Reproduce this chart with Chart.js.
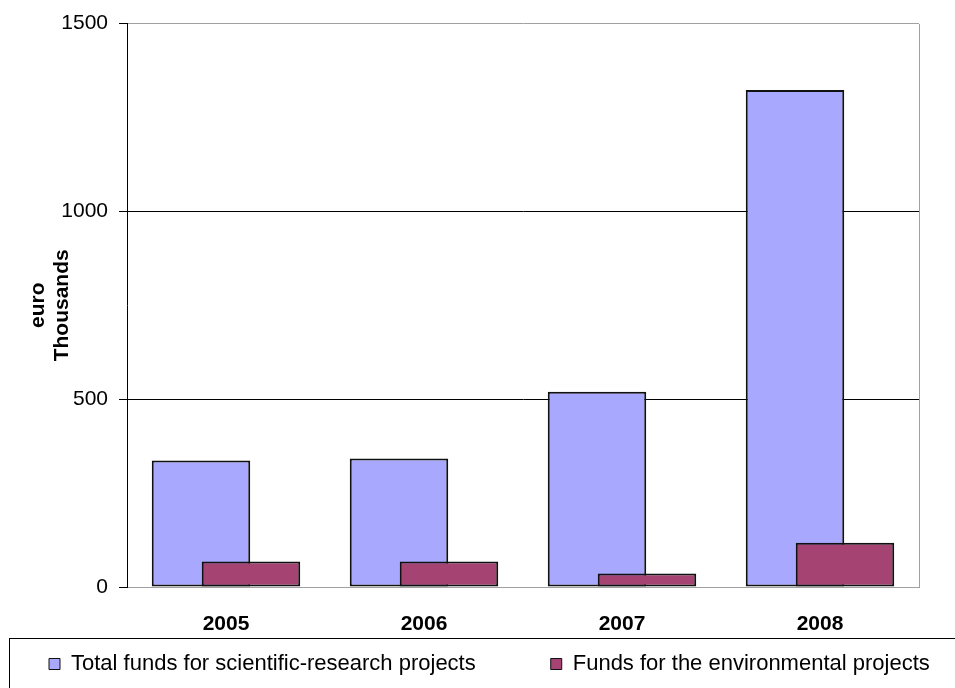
<!DOCTYPE html>
<html>
<head>
<meta charset="utf-8">
<script src="https://cdn.jsdelivr.net/npm/chart.js@4/dist/chart.umd.min.js"></script>
<style>
  html, body { margin: 0; padding: 0; background: #ffffff; }
  #wrap { width: 955px; height: 688px; }
</style>
</head>
<body>
<div id="wrap"><canvas id="chart" width="955" height="688"></canvas></div>
<script>
// Funding by year, euro thousands
const years = ['2005', '2006', '2007', '2008'];
const researchFunds = [337, 342, 520, 1323];
const environmentFunds = [68, 68, 36, 118];
const yTicks = [0, 500, 1000, 1500];
const seriesNames = ['Total funds for scientific-research projects', 'Funds for the environmental projects'];
const axisTitle = ['euro', 'Thousands'];

Chart.defaults.font.family = '"Liberation Sans", Arial, sans-serif';
Chart.defaults.color = '#000000';

// Right-hand edge of the plot area (top and bottom come from the grid/axis colours)
const plotFrame = {
  id: 'plotFrame',
  beforeDatasetsDraw(chart, args, opts) {
    const { ctx, chartArea: a } = chart;
    const x = Math.round(a.right) + 0.5;
    ctx.save();
    ctx.strokeStyle = opts.color;
    ctx.lineWidth = 1;
    ctx.beginPath();
    ctx.moveTo(x, Math.round(a.top));
    ctx.lineTo(x, Math.round(a.bottom) + 1);
    ctx.stroke();
    ctx.restore();
  }
};

// The second series sits over the first where the bars overlap
const overlapOrder = {
  id: 'overlapOrder',
  beforeDatasetDraw(chart, args) {
    if (args.index === 1) return false;
  },
  afterDatasetDraw(chart, args) {
    if (args.index === 0) chart.getDatasetMeta(1).controller.draw();
  }
};

// Framed legend strip along the bottom, running off the right edge
const legendFrame = {
  id: 'legendFrame',
  afterLayout(chart, args, opts) {
    const lg = chart.legend;
    if (!lg) return;
    const pad = lg.options.labels.padding;
    const frameTop = lg.top;
    chart.$legendFrame = { left: opts.left, top: frameTop };
    lg.left = opts.left + opts.insetX - pad;
    lg.right = lg.left + 4000;
    lg.width = 4000;
    lg.top = frameTop + opts.insetY - pad;
    lg.bottom = lg.top + 4000;
    lg.height = 4000;
  },
  afterDraw(chart, args, opts) {
    const f = chart.$legendFrame;
    if (!f) return;
    const { ctx } = chart;
    ctx.save();
    ctx.strokeStyle = opts.color;
    ctx.lineWidth = 1;
    ctx.strokeRect(Math.round(f.left) + 0.5, Math.round(f.top) + 0.5, chart.width + 100, 200);
    ctx.restore();
  }
};

new Chart(document.getElementById('chart'), {
  type: 'bar',
  data: {
    labels: years,
    datasets: [
      {
        label: seriesNames[0],
        data: researchFunds,
        backgroundColor: '#A8A8FF',
        borderColor: '#111111',
        borderWidth: 2,
        borderSkipped: false
      },
      {
        label: seriesNames[1],
        data: environmentFunds,
        backgroundColor: '#A54372',
        borderColor: '#111111',
        borderWidth: 2,
        borderSkipped: false
      }
    ]
  },
  options: {
    responsive: false,
    animation: false,
    events: [],
    categoryPercentage: 0.505,
    barPercentage: 1.97,
    layout: { padding: { top: 21, right: 36, bottom: 0, left: 0 } },
    scales: {
      x: {
        grid: { display: false },
        border: { display: true, color: '#a0a0a0', width: 1 },
        ticks: {
          padding: 17,
          font: { size: 21, weight: 'bold' },
          color: '#000000'
        },
        afterFit(scale) { scale.height = 51; }
      },
      y: {
        min: 0,
        max: 1500,
        afterBuildTicks(scale) { scale.ticks = yTicks.map(v => ({ value: v })); },
        grid: {
          color: (c) => (c.tick && (c.tick.value === 1500 || c.tick.value === 0)) ? '#a0a0a0' : '#000000',
          lineWidth: 1,
          drawTicks: true,
          tickLength: 8,
          tickColor: '#000000'
        },
        border: { display: true, color: '#000000', width: 1 },
        ticks: {
          padding: 11,
          font: { size: 21 },
          color: '#000000',
          callback: (v) => String(v)
        },
        title: {
          display: true,
          text: axisTitle,
          font: { size: 21, weight: 'bold', lineHeight: 1.15 },
          color: '#000000',
          padding: { top: 26, bottom: 0 }
        },
        afterFit(scale) { scale.width = 127; }
      }
    },
    plugins: {
      legend: {
        position: 'bottom',
        align: 'start',
        maxHeight: 50,
        labels: {
          padding: 75,
          boxWidth: 11,
          boxHeight: 11,
          color: '#000000',
          font: { size: 22 },
          generateLabels(chart) {
            const items = Chart.defaults.plugins.legend.labels.generateLabels(chart);
            items.forEach(it => { it.lineWidth = 1; });
            return items;
          }
        }
      },
      tooltip: { enabled: false },
      plotFrame: { color: '#a0a0a0' },
      legendFrame: { left: 9, insetX: 40, insetY: 15, color: '#000000' }
    }
  },
  plugins: [plotFrame, overlapOrder, legendFrame]
});
</script>
</body>
</html>
